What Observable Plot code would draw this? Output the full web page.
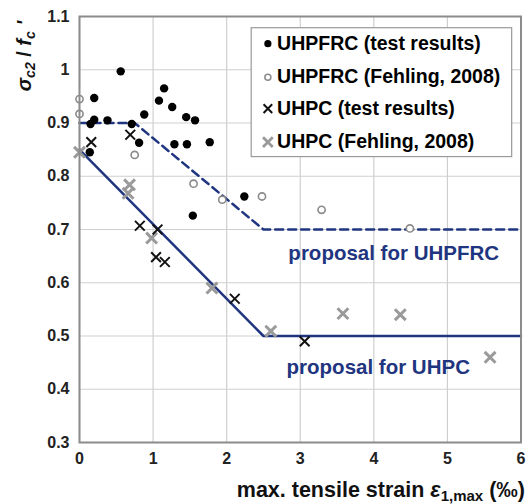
<!DOCTYPE html>
<html><head><meta charset="utf-8">
<script src="https://cdn.jsdelivr.net/npm/d3@7"></script>
<script src="https://cdn.jsdelivr.net/npm/@observablehq/plot@0.6"></script>
<style>body{margin:0;background:#fff}</style>
</head><body><div id="chart"></div>
<script>
// Tick values
const xTicks = [0, 1, 2, 3, 4, 5, 6];
const yTicks = [0.3, 0.4, 0.5, 0.6, 0.7, 0.8, 0.9, 1.0, 1.1];

// UHPFRC (test results) - filled circles
const frcTestX = [0.56, 0.20, 0.15, 0.20, 0.38, 0.14, 0.71, 0.88, 0.81, 1.15, 1.08, 1.26, 1.45, 1.57, 1.29, 1.46, 1.77, 1.54, 2.24];
const frcTestY = [0.997, 0.947, 0.898, 0.906, 0.905, 0.845, 0.898, 0.916, 0.863, 0.965, 0.942, 0.930, 0.911, 0.905, 0.860, 0.860, 0.864, 0.726, 0.762];

// UHPFRC (Fehling, 2008) - open circles
const frcFehX = [0.0, 0.0, 0.75, 1.55, 1.94, 2.48, 3.29, 4.49];
const frcFehY = [0.945, 0.917, 0.840, 0.786, 0.756, 0.762, 0.737, 0.702];

// UHPC (test results) - black crosses
const pcTestX = [0.16, 0.69, 0.82, 1.06, 1.04, 1.16, 2.11, 3.06];
const pcTestY = [0.864, 0.878, 0.707, 0.700, 0.648, 0.639, 0.570, 0.490];

// UHPC (Fehling, 2008) - gray crosses
const pcFehX = [0.0, 0.68, 0.66, 0.98, 1.80, 2.60, 3.58, 4.36, 5.58];
const pcFehY = [0.845, 0.784, 0.768, 0.684, 0.590, 0.509, 0.542, 0.540, 0.460];

// Proposal lines
const propFrcX = [0, 0.75, 2.5, 6];
const propFrcY = [0.9, 0.9, 0.7, 0.7];
const propPcX = [0, 2.5, 6];
const propPcY = [0.85, 0.5, 0.5];

// Annotation labels
const annLabels = ["proposal for UHPFRC", "proposal for UHPC"];
const annX = [4.27, 4.06];
const annY = [0.655, 0.441];

// Legend
const legendLabels = ["UHPFRC (test results)", "UHPFRC (Fehling, 2008)", "UHPC (test results)", "UHPC (Fehling, 2008)"];

const zip = (xs, ys) => xs.map((x, i) => ({x, y: ys[i]}));
const frcTest = zip(frcTestX, frcTestY);
const frcFeh = zip(frcFehX, frcFehY);
const pcTest = zip(pcTestX, pcTestY);
const pcFeh = zip(pcFehX, pcFehY);
const propFrc = zip(propFrcX, propFrcY);
const propPc = zip(propPcX, propPcY);
const ann = annLabels.map((t, i) => ({t, x: annX[i], y: annY[i]}));

// legend layout (in data units)
const legBox = [{x1: 2.34, x2: 5.88, y1: 0.836, y2: 1.078}];
const legRowY = [1.049, 0.986, 0.927, 0.864];
const leg = legendLabels.map((t, i) => ({t, i, x: 2.56, tx: 2.685, y: legRowY[i]}));

const navy = "#1f3580";

const svg = Plot.plot({
  width: 527,
  height: 504,
  marginLeft: 79,
  marginRight: 6.5,
  marginTop: 16,
  marginBottom: 62,
  style: {fontFamily: "'Liberation Sans', Arial, sans-serif", fontSize: "16px", fontWeight: "bold", color: "#222", background: "#fff"},
  x: {domain: [0, 6], ticks: xTicks},
  y: {domain: [0.3, 1.1], ticks: yTicks},
  marks: [
    Plot.gridX(xTicks, {stroke: "#cfcfcf", strokeOpacity: 1, strokeWidth: 1.2}),
    Plot.gridY(yTicks, {stroke: "#cfcfcf", strokeOpacity: 1, strokeWidth: 1.2}),
    Plot.axisX(xTicks, {tickSize: 0, tickPadding: 10, label: null, tickFormat: d => String(d), fontSize: 16}),
    Plot.axisY(yTicks, {tickSize: 0, tickPadding: 10, label: null, tickFormat: d => (Math.abs(d - 1) < 1e-9 ? "1" : d3.format(".1f")(d)), fontSize: 16}),
    Plot.line(propPc, {x: "x", y: "y", stroke: navy, strokeWidth: 2.5}),
    Plot.line(propFrc, {x: "x", y: "y", stroke: navy, strokeWidth: 2.5, strokeDasharray: "8,5"}),
    Plot.dot(pcFeh, {x: "x", y: "y", symbol: "times", r: 5, stroke: "#9a9a9a", strokeWidth: 3}),
    Plot.dot(frcFeh, {x: "x", y: "y", symbol: "circle", r: 3.6, stroke: "#8a8a8a", strokeWidth: 1.6, fill: "#fff"}),
    Plot.dot(pcTest, {x: "x", y: "y", symbol: "times", r: 4.5, stroke: "#111", strokeWidth: 2}),
    Plot.dot(frcTest, {x: "x", y: "y", symbol: "circle", r: 4.2, fill: "#000", stroke: "none"}),
    Plot.text(ann, {x: "x", y: "y", text: "t", fill: navy, fontSize: 20.5, fontWeight: "bold"}),
    Plot.rect(legBox, {x1: "x1", x2: "x2", y1: "y1", y2: "y2", fill: "#fff", stroke: "#999", strokeWidth: 1.2}),
    Plot.dot(leg.filter(d => d.i === 0), {x: "x", y: "y", r: 3.6, fill: "#000"}),
    Plot.dot(leg.filter(d => d.i === 1), {x: "x", y: "y", r: 3, stroke: "#8a8a8a", strokeWidth: 1.5, fill: "#fff"}),
    Plot.dot(leg.filter(d => d.i === 2), {x: "x", y: "y", symbol: "times", r: 4, stroke: "#111", strokeWidth: 2}),
    Plot.dot(leg.filter(d => d.i === 3), {x: "x", y: "y", symbol: "times", r: 4.5, stroke: "#9a9a9a", strokeWidth: 2.8}),
    Plot.text(leg, {x: "tx", y: "y", text: "t", textAnchor: "start", fill: "#000", fontSize: 19.5, fontWeight: "bold"}),
    Plot.frame({stroke: "#8c8c8c", strokeWidth: 2})
  ]
});

const s = d3.select(svg);
// y-axis title
const yl = s.append("text")
  .attr("transform", "translate(31,56) rotate(-90)")
  .attr("text-anchor", "middle")
  .attr("font-size", 20).attr("font-weight", "bold").attr("fill", "#111");
yl.append("tspan").attr("font-style", "italic").text("σ");
yl.append("tspan").attr("font-size", 14).attr("dy", 4).attr("font-style", "italic").text("c2");
yl.append("tspan").attr("dy", -4).text(" / ");
yl.append("tspan").attr("font-style", "italic").text("f");
yl.append("tspan").attr("font-size", 14).attr("dy", 4).attr("font-style", "italic").text("c");
yl.append("tspan").attr("dy", -4).attr("font-style", "italic").text(" '");

// x-axis title
const xl = s.append("text")
  .attr("x", 525).attr("y", 497)
  .attr("text-anchor", "end")
  .attr("font-size", 21.5).attr("font-weight", "bold").attr("fill", "#111");
xl.append("tspan").text("max. tensile strain ");
xl.append("tspan").attr("font-style", "italic").text("ε");
xl.append("tspan").attr("font-size", 15).attr("dy", 4).text("1,max");
xl.append("tspan").attr("dy", -4).text(" (‰)");

document.getElementById("chart").appendChild(svg);
</script>
</body></html>
